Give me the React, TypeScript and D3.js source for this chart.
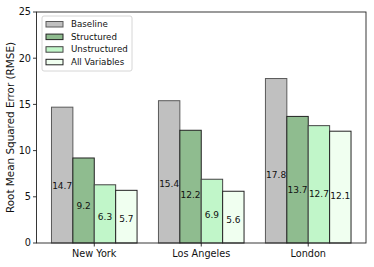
import React from 'react';
import * as d3 from 'd3';

const cities = ['New York', 'Los Angeles', 'London'];
const seriesNames = ['Baseline', 'Structured', 'Unstructured', 'All Variables'];
const baseline = [14.7, 15.4, 17.8];
const structured = [9.2, 12.2, 13.7];
const unstructured = [6.3, 6.9, 12.7];
const allVariables = [5.7, 5.6, 12.1];
const yTicks = [0, 5, 10, 15, 20, 25];

const fills = ['#c0c0c0', '#8fbc8f', '#c1f6c9', '#f0fff0'];
const edges = ['#5a5a5a', '#222', '#444', '#222'];

const W = 374;
const H = 267;
const margin = { top: 12, right: 8, bottom: 24, left: 36.5 };

export default function App() {
    const innerW = W - margin.left - margin.right;
    const innerH = H - margin.top - margin.bottom;
    const series = [baseline, structured, unstructured, allVariables];

    const x = d3.scaleLinear().domain([-0.54, 2.54]).range([0, innerW]);
    const y = d3.scaleLinear().domain([0, 25]).range([innerH, 0]);
    const barW = x(0.2) - x(0);

    const font = 'DejaVu Sans, sans-serif';

    return (
        <div style={{ position: 'absolute', left: 0, top: 0 }}>
            <svg width={W} height={H} style={{ display: 'block', background: '#fff' }}>
                <g transform={`translate(${margin.left},${margin.top})`}>
                    {series.map((vals, si) =>
                        vals.map((v, ci) => {
                            const x0 = x(ci - 0.4 + si * 0.2);
                            return (
                                <g key={`${si}-${ci}`}>
                                    <rect x={x0} y={y(v)} width={barW} height={innerH - y(v)}
                                        fill={fills[si]} stroke={edges[si]} strokeWidth={1} />
                                    {/* label sits at 40% of the bar height */}
                                    <text x={x0 + barW / 2} y={y(v * 0.4) + 0.5} textAnchor="middle"
                                        fontFamily={font} fontSize={9} fill="#111">{v.toFixed(1)}</text>
                                </g>
                            );
                        })
                    )}
                    <rect x={0} y={0} width={innerW} height={innerH} fill="none" stroke="#222" strokeWidth={0.9} />
                    {yTicks.map(t => (
                        <g key={t} transform={`translate(0,${y(t)})`}>
                            <line x1={-3.5} x2={0} stroke="#222" strokeWidth={0.9} />
                            <text x={-5.5} dy="0.35em" textAnchor="end" fontFamily={font} fontSize={9.7} fill="#111">{t}</text>
                        </g>
                    ))}
                    {cities.map((c, i) => (
                        <g key={c} transform={`translate(${x(i)},${innerH})`}>
                            <line y1={0} y2={3.5} stroke="#222" strokeWidth={0.9} />
                            <text y={14} textAnchor="middle" fontFamily={font} fontSize={9.7} fill="#111">{c}</text>
                        </g>
                    ))}
                    <text transform={`translate(${-23},${innerH / 2}) rotate(-90)`} textAnchor="middle"
                        fontFamily={font} fontSize={10.4} fill="#111">Root Mean Squared Error (RMSE)</text>
                    <g transform="translate(5.5,4)">
                        <rect x={0} y={0} width={90} height={55} rx={2} fill="#fff" fillOpacity={0.8}
                            stroke="#ccc" strokeWidth={0.8} />
                        {seriesNames.map((n, i) => (
                            <g key={n} transform={`translate(4,${8 + i * 12.6})`}>
                                <rect x={0} y={-2.5} width={17} height={5.5} fill={fills[i]} stroke={edges[i]} strokeWidth={1} />
                                <text x={25} dy="0.35em" fontFamily={font} fontSize={8.7} fill="#111">{n}</text>
                            </g>
                        ))}
                    </g>
                </g>
            </svg>
        </div>
    );
}
